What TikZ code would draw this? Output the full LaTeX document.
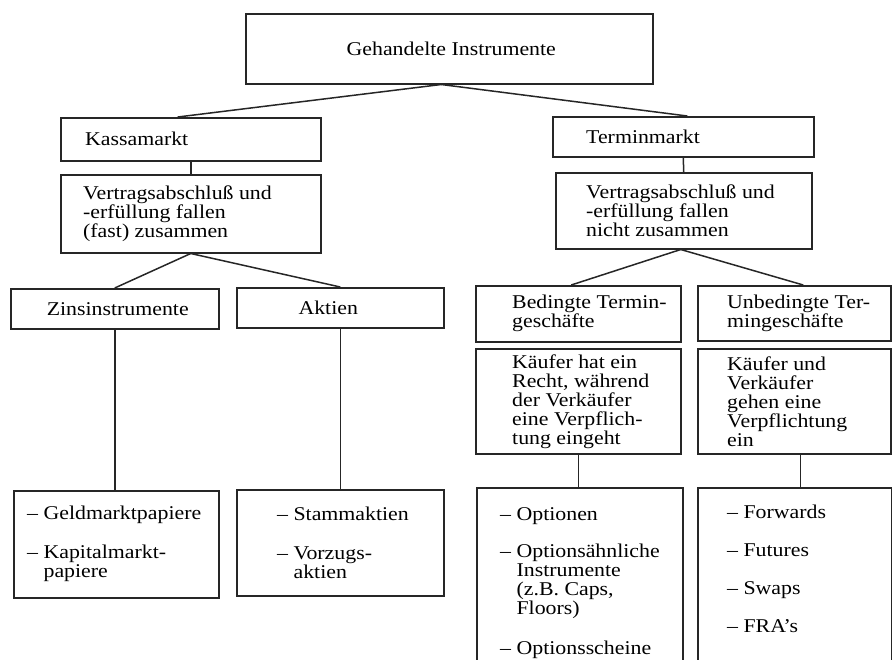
\documentclass[tikz,border=0pt]{standalone}
\usepackage{fontspec}
\setmainfont{Liberation Serif}[FakeStretch=1.12]
\begin{document}
\begin{tikzpicture}[x=1pt,y=-1pt,
  box/.style={draw=black!85, line width=1.5pt, inner sep=0pt, anchor=north west},
  txt/.style={inner sep=0pt, align=left, font=\fontsize{19.5}{19}\selectfont},
  conn/.style={draw=black!85, line width=1.5pt}]
\useasboundingbox (0,0) rectangle (892,659);
\clip (0,0) rectangle (892,659);
% boxes
\node[box, minimum width=407pt, minimum height=70pt] (top) at (245,13) {};
\node[box, minimum width=260pt, minimum height=43pt] (kassa) at (60,117) {};
\node[box, minimum width=261pt, minimum height=40pt] (termin) at (552,116) {};
\node[box, minimum width=260pt, minimum height=78pt] (vl) at (60,174) {};
\node[box, minimum width=256pt, minimum height=76pt] (vr) at (555,172) {};
\node[box, minimum width=208pt, minimum height=40pt] (zins) at (10,288) {};
\node[box, minimum width=207pt, minimum height=40pt] (aktien) at (236,287) {};
\node[box, minimum width=205pt, minimum height=56pt] (bed) at (475,285) {};
\node[box, minimum width=193pt, minimum height=55pt] (unbed) at (697,285) {};
\node[box, minimum width=205pt, minimum height=105pt] (kl) at (475,348) {};
\node[box, minimum width=193pt, minimum height=105pt] (kr) at (697,348) {};
\node[box, minimum width=205pt, minimum height=107pt] (geld) at (13,490) {};
\node[box, minimum width=207pt, minimum height=106pt] (stamm) at (236,489) {};
\node[box, minimum width=206pt, minimum height=200pt] (opt) at (476,487) {};
\node[box, minimum width=194pt, minimum height=200pt] (fwd) at (697,487) {};
% texts
\node[txt] (topT) at ([xshift=2pt]top.center) {Gehandelte Instrumente};
\node[txt, anchor=west] (kassaT) at ([xshift=25pt]kassa.west) {Kassamarkt};
\node[txt, anchor=west] (terminT) at ([xshift=34pt]termin.west) {Terminmarkt};
\node[txt, anchor=west] (vlT) at ([xshift=23pt]vl.west) {Vertragsabschluß und\\-erfüllung fallen\\(fast) zusammen};
\node[txt, anchor=west] (vrT) at ([xshift=31pt]vr.west) {Vertragsabschluß und\\-erfüllung fallen\\nicht zusammen};
\node[txt] (zinsT) at ([xshift=3pt]zins.center) {Zinsinstrumente};
\node[txt] (aktienT) at ([xshift=-12pt]aktien.center) {Aktien};
\node[txt, anchor=west] (bedT) at ([xshift=37pt]bed.west) {Bedingte Termin-\\geschäfte};
\node[txt, anchor=west] (unbedT) at ([xshift=30pt]unbed.west) {Unbedingte Ter-\\mingeschäfte};
\node[txt, anchor=west] (klT) at ([xshift=37pt]kl.west) {Käufer hat ein\\Recht, während\\der Verkäufer\\eine Verpflich-\\tung eingeht};
\node[txt, anchor=west] (krT) at ([xshift=30pt]kr.west) {Käufer und\\Verkäufer\\gehen eine\\Verpflichtung\\ein};
\node[txt, anchor=west] (geldT) at ([xshift=14pt]geld.west) {–~Geldmarktpapiere\\[20pt]–~Kapitalmarkt-\\\phantom{–~}papiere};
\node[txt, anchor=west] (stammT) at ([xshift=41pt]stamm.west) {–~Stammaktien\\[20pt]–~Vorzugs-\\\phantom{–~}aktien};
\node[txt, anchor=north west] (optT) at ([xshift=24pt,yshift=-20pt]opt.north west) {–~Optionen\\[18pt]–~Optionsähnliche\\\phantom{–~}Instrumente\\\phantom{–~}(z.B. Caps,\\\phantom{–~}Floors)\\[21pt]–~Optionsscheine};
\node[txt, anchor=north west] (fwdT) at ([xshift=30pt,yshift=-18pt]fwd.north west) {–~Forwards\\[19pt]–~Futures\\[19pt]–~Swaps\\[19pt]–~FRA’s};
% connectors
\draw[conn] ([xshift=-8pt]top.south) -- ([xshift=-13pt]kassa.north);
\draw[conn] ([xshift=-8pt]top.south) -- ([xshift=4pt]termin.north);
\draw[conn] (kassa.south) -- (vl.north);
\draw[conn] (termin.south) -- (vr.north);
\draw[conn] (vl.south) -- (zins.north);
\draw[conn] (vl.south) -- (aktien.north);
\draw[conn] (zins.south) -- (zins.south |- geld.north);
\draw[conn] (aktien.south) -- (aktien.south |- stamm.north);
\draw[conn] ([xshift=-3pt]vr.south) -- ([xshift=-7pt]bed.north);
\draw[conn] ([xshift=-3pt]vr.south) -- ([xshift=9pt]unbed.north);
\draw[conn] (kl.south) -- (kl.south |- opt.north);
\draw[conn] ([xshift=6pt]kr.south) -- ([xshift=6pt]kr.south |- fwd.north);
\end{tikzpicture}
\end{document}
